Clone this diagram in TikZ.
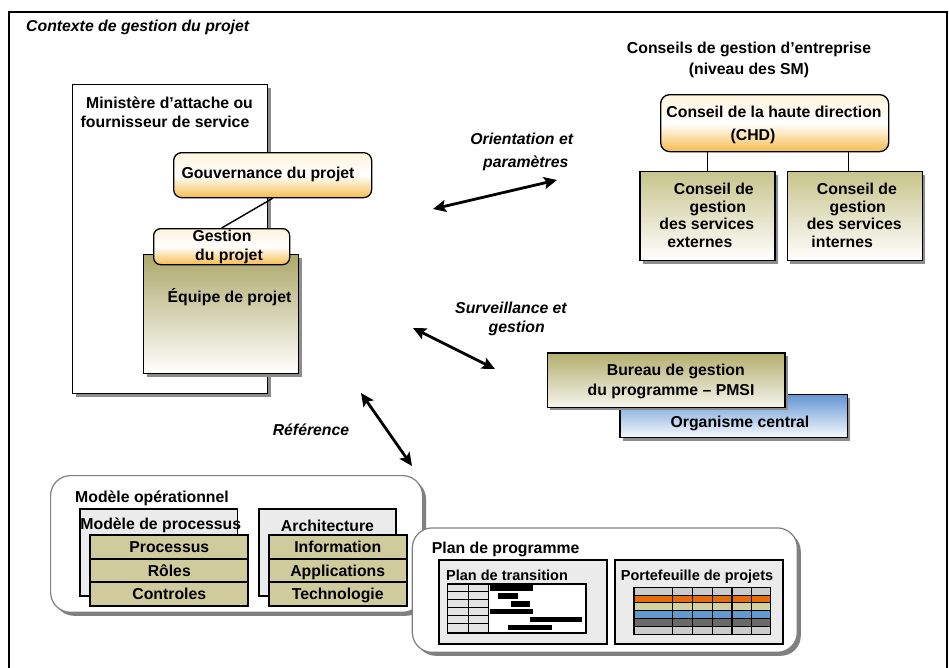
\documentclass[tikz,border=0pt]{standalone}
\usepackage{fontspec}
\setmainfont{Liberation Sans}
\usetikzlibrary{shadows,arrows.meta,calc}

\definecolor{oliveTeam}{HTML}{ADA86A}
\definecolor{oliveBoard}{HTML}{C8C48C}
\definecolor{oliveOffice}{HTML}{B3AE6E}
\definecolor{oliveCell}{HTML}{CFCB9D}
\definecolor{orangeTop}{HTML}{FFF4DC}
\definecolor{orangeBot}{HTML}{F7BD4E}
\definecolor{blueTop}{HTML}{6496D3}
\definecolor{paleGray}{HTML}{EBEBEB}
\definecolor{ganttGray}{HTML}{E4E4E4}
\definecolor{rimGray}{HTML}{808080}
\definecolor{pfLight}{HTML}{CACACA}
\definecolor{pfOrange}{HTML}{E46C0A}
\definecolor{pfKhaki}{HTML}{D5D19E}
\definecolor{pfBlue}{HTML}{6399CF}
\definecolor{pfDark}{HTML}{6A6A6A}

\begin{document}
\begin{tikzpicture}[x=1pt,y=-1pt,
  lbl/.style={font=\bfseries\fontsize{15.8}{#1}\selectfont, inner sep=0pt, align=center},
  lbl/.default=19,
  ilbl/.style={font=\bfseries\itshape\fontsize{15.8}{#1}\selectfont, inner sep=0pt, align=center},
  ilbl/.default=19,
  slbl/.style={font=\bfseries\fontsize{14.5}{17}\selectfont, inner sep=0pt},
  castshadow/.style={drop shadow={shadow xshift=3pt, shadow yshift=-3pt, fill=black!45, opacity=1}},
  panel/.style={draw=black, line width=1.3pt, inner sep=0pt, anchor=north west},
  orangefill/.style={top color=orangeTop, bottom color=orangeBot, middle color=white},
  container/.style={draw=rimGray, line width=1.2pt, fill=white, rounded corners=20pt, anchor=north west, inner sep=0pt,
    drop shadow={shadow xshift=3.5pt, shadow yshift=-3.5pt, fill=black!50, opacity=1}},
  graybox/.style={draw=black, line width=1.5pt, fill=paleGray, anchor=north west, inner sep=0pt},
  cell/.style={draw=black, line width=2pt, fill=oliveCell, anchor=north west, inner sep=0pt, minimum height=23.7pt,
    font=\bfseries\fontsize{15.8}{19}\selectfont, text height=11.4pt, text depth=0pt},
  thickbox/.style={draw=black, line width=2pt, fill=paleGray, anchor=north west, inner sep=0pt},
  dblarrow/.style={line width=2.8pt, <->, >={Stealth[length=13pt,width=12pt,inset=2.5pt]}},
  link/.style={line width=1.4pt}
]
\useasboundingbox (0,0) rectangle (949,667);

% outer frame, open at the bottom
\draw[line width=1.3pt] (9,672) -- (9,12) -- (947,12) -- (947,672);
\node[ilbl, anchor=west] (ctx) at (26,27) {Contexte de gestion du projet};

% ministry / service provider
\node[panel, fill=white, castshadow, minimum width=195pt, minimum height=309pt] (min) at (72,84) {};
\node[lbl] (minT) at (169.5,112.3) {Ministère d’attache ou\\fournisseur de service\hspace*{9pt}};

\node[panel, top color=oliveTeam, bottom color=white, castshadow, minimum width=155pt, minimum height=119pt] (team) at (143,254) {};
\node[lbl] (teamT) at (229.5,297) {Équipe de projet};

\node[panel, orangefill, rounded corners=7pt, minimum width=136pt, minimum height=36pt] (pm) at (153,228) {};
\node[lbl=18.5] (pmT) at (222,247) {Gestion\\\hspace*{14pt}du projet};

\node[panel, orangefill, rounded corners=8pt, minimum width=198pt, minimum height=45pt] (gov) at (173,152) {};
\node[lbl] (govT) at (268,174.5) {Gouvernance du projet};

\draw[link] (gov.south) -- (pm.north);

% enterprise boards
\node[lbl=21.3] (cgH) at (749,60.2) {Conseils de gestion d’entreprise\\(niveau des SM)};

\node[panel, orangefill, rounded corners=9pt, minimum width=228pt, minimum height=57pt] (chd) at (660,94) {};
\node[lbl=22.3] (chdT) at (774,125) {Conseil de la haute direction\\(CHD)\hspace*{42pt}};

\node[panel, top color=oliveBoard, bottom color=white, castshadow, minimum width=135pt, minimum height=89pt] (cgE) at (639.3,171) {};
\node[lbl=17.6] (cgET) at (706.8,215.3) {\hspace*{14pt}Conseil de\\\hspace*{22pt}gestion\\des services\hspace*{10pt}\\externes\hspace*{14pt}};

\node[panel, top color=oliveBoard, bottom color=white, castshadow, minimum width=135pt, minimum height=89pt] (cgI) at (786.7,171) {};
\node[lbl=17.6] (cgIT) at (854.2,215.3) {\hspace*{5.4pt}Conseil de\\\hspace*{7pt}gestion\\des services\hspace*{23pt}\\internes\hspace*{24pt}};

\coordinate (jI) at ($(cgI.north)+(-6.5,0)$);
\draw[link] (cgE.north |- chd.south) -- (cgE.north);
\draw[link] (jI |- chd.south) -- (jI);

% program management office and central agency
\node[panel, top color=blueTop, bottom color=blueTop!6!white, castshadow, minimum width=227.4pt, minimum height=43pt] (org) at (619.3,394) {};
\node[lbl] (orgT) at (740,423.3) {Organisme central};

\node[panel, top color=oliveOffice, bottom color=oliveOffice!12!white, castshadow, minimum width=237.6pt, minimum height=54.4pt] (pmo) at (546.7,352.3) {};
\node[lbl=20] (pmoT) at (671,381.5) {\hspace*{9.6pt}Bureau de gestion\\du programme – PMSI};

% relationship arrows
\coordinate (o1) at (433,209);
\coordinate (o2) at (557,180);
\draw[dblarrow] (o1) -- (o2);
\node[ilbl=22.7] (oT) at (521.7,151.8) {Orientation et\\\hspace*{8.2pt}paramètres};

\coordinate (s1) at (413,328);
\coordinate (s2) at (495,369);
\draw[dblarrow] (s1) -- (s2);
\node[ilbl=18.7] (sT) at (511,319) {Surveillance et\\\hspace*{11.4pt}gestion};

\coordinate (r1) at (361,393);
\coordinate (r2) at (412,466);
\draw[dblarrow] (r1) -- (r2);
\node[ilbl] (rT) at (311,429.5) {Référence};

% operational model
\node[container, minimum width=372pt, minimum height=136.7pt] (mo) at (50,475) {};
\node[lbl, anchor=west] (moT) at (75,498.3) {Modèle opérationnel};

\node[graybox, minimum width=157.4pt, minimum height=86.7pt] (mp) at (79.3,508.3) {};
\node[lbl] (mpT) at (160.8,525.5) {Modèle de processus};
\node[cell, minimum width=158pt] (c1) at (89.3,534) {Processus};
\node[cell, minimum width=158pt] (c2) at (89.3,557.7) {Rôles};
\node[cell, minimum width=158pt] (c3) at (89.3,581.3) {Controles};

\node[graybox, minimum width=136.7pt, minimum height=86.7pt] (ar) at (258.3,508.3) {};
\node[lbl] (arT) at (327.5,525.5) {Architecture};
\node[cell, minimum width=138pt] (a1) at (267.7,534) {Information};
\node[cell, minimum width=138pt] (a2) at (267.7,557.7) {Applications};
\node[cell, minimum width=138pt] (a3) at (267.7,581.3) {Technologie};

% program plan
\node[container, minimum width=385pt, minimum height=124.4pt] (pp) at (411.7,527.3) {};
\node[lbl, anchor=west] (ppT) at (431.7,549.9) {Plan de programme};

\node[thickbox, minimum width=167.7pt, minimum height=83.4pt] (pt) at (438.3,559.3) {};
\node[slbl, anchor=west] (ptT) at (446,575) {Plan de transition};

\node[draw=black, line width=1.2pt, fill=white, anchor=north west, inner sep=0pt, minimum width=137.7pt, minimum height=47.7pt] (gantt) at (447.3,584) {};
\fill[ganttGray] (gantt.north west) rectangle (488.3,631.7);
\foreach \k in {1,...,5}
  \draw[line width=1pt] (447.3,{584+7.95*\k}) -- (488.3,{584+7.95*\k});
\draw[line width=1pt] (468.3,584) -- (468.3,631.7) (488.3,584) -- (488.3,631.7);
\draw[line width=1.2pt] (gantt.north west) rectangle (gantt.south east);
\foreach \a/\b/\k in {490/533.3/0, 498.3/518.3/1, 510.7/530/2, 490/533.3/3, 530/581.7/4, 508.3/551.7/5}
  \fill (\a,{584+7.95*\k+1.2}) rectangle (\b,{584+7.95*\k+6.6});

\node[thickbox, minimum width=167.4pt, minimum height=83.4pt] (pf) at (614.3,559.3) {};
\node[slbl] (pfT) at (697,576.3) {Portefeuille de projets};

\node[anchor=north west, inner sep=0pt, minimum width=136pt, minimum height=46.7pt] (pftab) at (634,587.3) {};
\foreach \c [count=\i from 0] in {pfLight,pfOrange,pfKhaki,pfBlue,pfDark,pfLight}
  \fill[\c] (634,{587.3+7.78*\i}) rectangle (770,{587.3+7.78*(\i+1)});
\foreach \k in {1,...,5}
  \draw[line width=1.1pt] (634,{587.3+7.78*\k}) -- (770,{587.3+7.78*\k});
\foreach \x in {672.7,692.7,712.3,732,751.7}
  \draw[line width=1.1pt] (\x,587.3) -- (\x,634);
\draw[line width=1.4pt] (pftab.north west) rectangle (pftab.south east);

\end{tikzpicture}
\end{document}
